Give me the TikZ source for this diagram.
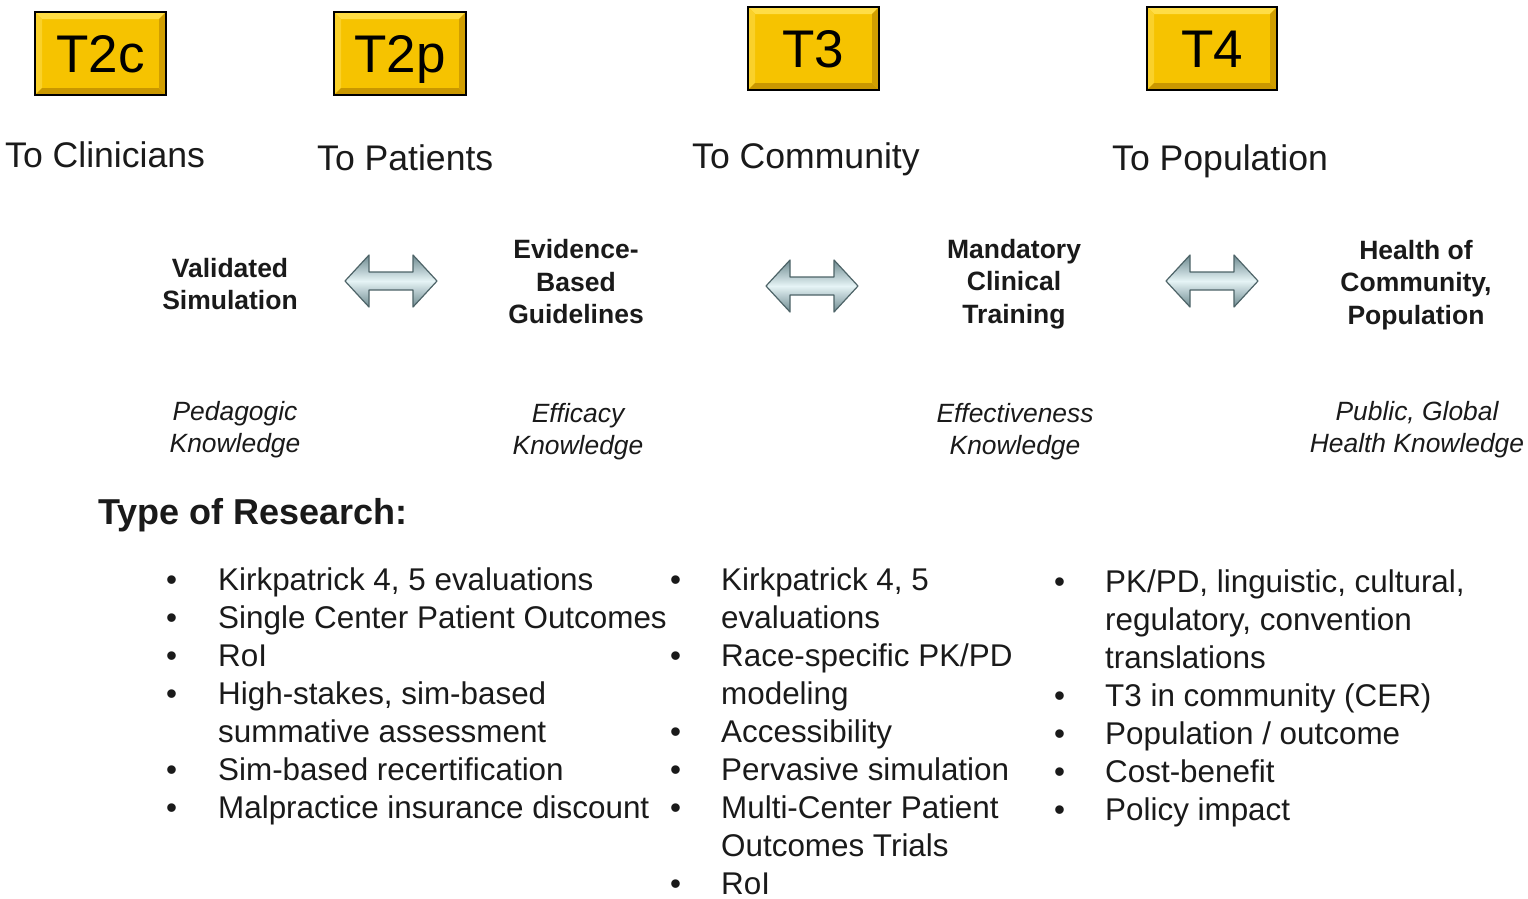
\documentclass[tikz,border=0pt]{standalone}
\usepackage{fontspec}
\setmainfont{Liberation Sans}
\definecolor{gold}{HTML}{F6C300}
\definecolor{goldlt}{HTML}{FFDD45}
\definecolor{goldmd}{HTML}{FAD12A}
\definecolor{golddk}{HTML}{C99700}
\definecolor{ink}{HTML}{1A1A1A}
\definecolor{arrdk}{HTML}{6E8A90}
\definecolor{arrlt}{HTML}{E6F4F6}
\definecolor{arredge}{HTML}{4E6468}
\newcommand\tboxdraw[6]{%
  \fill[gold] (#1,#2) rectangle (#3,#4);
  \fill[goldlt] (#1,#2) -- (#3,#2) -- (#3-7,#2+7) -- (#1+7,#2+7) -- cycle;
  \fill[goldmd] (#1,#2) -- (#1+7,#2+7) -- (#1+7,#4-7) -- (#1,#4) -- cycle;
  \fill[golddk] (#1,#4) -- (#3,#4) -- (#3-7,#4-7) -- (#1+7,#4-7) -- cycle;
  \fill[golddk!85!gold] (#3,#2) -- (#3,#4) -- (#3-7,#4-7) -- (#3-7,#2+7) -- cycle;
  \draw[line width=2pt, black] (#1,#2) rectangle (#3,#4);
  \node[tlabel] (#5) at ({(#1+#3)/2},{(#2+#4)/2+19}) {#6};
}
\newcommand\dblarrowdraw[2]{%
  \path[draw=arredge, line width=1.2pt, line join=round,
        top color=arrdk, bottom color=arrdk, middle color=arrlt]
    (#1-46,#2) -- (#1-22,#2-26) -- (#1-22,#2-9) -- (#1+22,#2-9) -- (#1+22,#2-26)
    -- (#1+46,#2) -- (#1+22,#2+26) -- (#1+22,#2+9) -- (#1-22,#2+9) -- (#1-22,#2+26) -- cycle;
}
\tikzset{
  tlabel/.style={font=\fontsize{53}{60}\selectfont, text=black, inner sep=0pt, anchor=base},
  titletext/.style={font=\fontsize{35.6}{42}\selectfont, text=ink, anchor=base west, inner sep=0pt},
  headtext/.style={font=\bfseries\fontsize{26.5}{32.5}\selectfont, align=center, text=ink, inner sep=0pt},
  knowtext/.style={font=\itshape\fontsize{26.4}{32}\selectfont, align=center, text=ink, inner sep=0pt},
  itemtext/.style={font=\fontsize{31.4}{38}\selectfont, align=left, anchor=base west, inner sep=0pt, text=ink},
  typetext/.style={font=\bfseries\fontsize{36}{42}\selectfont, anchor=base west, inner sep=0pt, text=ink},
}
\begin{document}
\begin{tikzpicture}[x=1pt,y=-1pt]
\useasboundingbox[fill=white] (0,0) rectangle (1528,898);
% T boxes
\tboxdraw{35}{12}{166}{95}{t2c}{T2c}
\tboxdraw{334}{12}{466}{95}{t2p}{T2p}
\tboxdraw{748}{7}{879}{90}{t3}{T3}
\tboxdraw{1147}{7}{1277}{90}{t4}{T4}
% titles
\node[titletext] (tc) at (5,167) {To Clinicians};
\node[titletext] (tp) at (317,170) {To Patients};
\node[titletext] (tco) at (692,168) {To Community};
\node[titletext] (tpo) at (1112,170) {To Population};
% headings
\node[headtext] (h1) at (230,284) {Validated\\Simulation};
\node[headtext] (h2) at (576,282) {Evidence-\\Based\\Guidelines};
\node[headtext] (h3) at (1014,284) {Mandatory\\Clinical\\Training};
\node[headtext] (h4) at (1416,285) {Health of\\Community,\\Population};
% arrows
\dblarrowdraw{391}{281}
\dblarrowdraw{812}{286}
\dblarrowdraw{1212}{281}
% knowledge
\node[knowtext] (k1) at (235,430) {Pedagogic\\Knowledge};
\node[knowtext] (k2) at (578,432) {Efficacy\\Knowledge};
\node[knowtext] (k3) at (1015,432) {Effectiveness\\Knowledge};
\node[knowtext] (k4) at (1417,430) {Public, Global\\Health Knowledge};
% type of research
\node[typetext] (tor) at (98,524) {Type of Research:};
% lists (anchored at the baseline of the last line)
\node[itemtext] (b1) at (166,818) {•\\•\\•\\•\\\mbox{}\\•\\•};
\node[itemtext] (l1) at (218,818) {Kirkpatrick 4, 5 evaluations\\Single Center Patient Outcomes\\RoI\\High-stakes, sim-based\\summative assessment\\Sim-based recertification\\Malpractice insurance discount};
\node[itemtext] (b2) at (670,894) {•\\\mbox{}\\•\\\mbox{}\\•\\•\\•\\\mbox{}\\•};
\node[itemtext] (l2) at (721,894) {Kirkpatrick 4, 5\\evaluations\\Race-specific PK/PD\\modeling\\Accessibility\\Pervasive simulation\\Multi-Center Patient\\Outcomes Trials\\RoI};
\node[itemtext] (b3) at (1054,820) {•\\\mbox{}\\\mbox{}\\•\\•\\•\\•};
\node[itemtext] (l3) at (1105,820) {PK/PD, linguistic, cultural,\\regulatory, convention\\translations\\T3 in community (CER)\\Population / outcome\\Cost-benefit\\Policy impact};
\end{tikzpicture}
\end{document}
